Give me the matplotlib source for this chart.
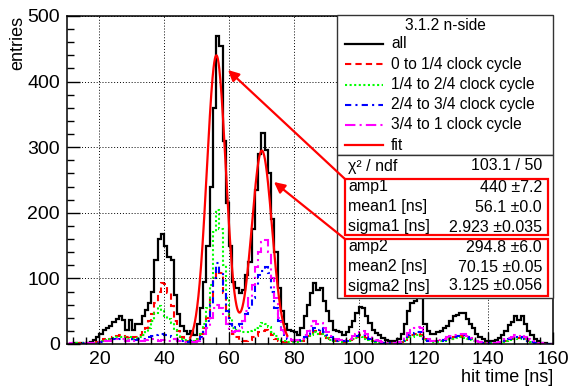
import matplotlib
matplotlib.use("Agg")
import matplotlib.pyplot as plt
import numpy as np
from matplotlib.patches import Rectangle
from matplotlib.lines import Line2D
from matplotlib.ticker import MultipleLocator

plt.rcParams['font.family'] = ['Liberation Sans', 'DejaVu Sans']

# hit time bins, 1 ns wide, 10 .. 160 ns
edges = np.arange(10, 161)

all_hits = [0, 0, 1, 0, 1, 0, 1, 3, 6, 10,
            15, 21, 24, 27, 33, 38, 43, 36, 22, 36,
            22, 30, 30, 42, 52, 62, 80, 128, 160, 168,
            150, 132, 128, 75, 45, 28, 20, 15, 20, 14,
            30, 55, 95, 150, 240, 360, 470, 455, 310, 215,
            150, 95, 85, 78, 82, 105, 125, 175, 235, 290,
            322, 295, 260, 190, 140, 85, 50, 30, 22, 20,
            18, 14, 24, 42, 60, 78, 93, 82, 85, 65,
            50, 35, 22, 20, 19, 14, 18, 26, 35, 47,
            56, 55, 42, 32, 22, 17, 13, 9, 6, 4,
            5, 4, 8, 15, 30, 50, 62, 65, 73, 70,
            30, 20, 15, 16, 18, 20, 24, 28, 35, 42,
            44, 48, 47, 38, 30, 24, 16, 10, 7, 5,
            4, 5, 6, 9, 14, 20, 29, 34, 42, 36,
            42, 30, 20, 13, 8, 4, 2, 1, 0, 0]

q1_hits = [0, 0, 0, 1, 0, 1, 0, 1, 2, 3,
           5, 7, 9, 8, 10, 12, 14, 12, 10, 12,
           10, 11, 14, 20, 25, 35, 45, 62, 80, 93,
           92, 78, 58, 35, 20, 10, 6, 5, 6, 4,
           8, 15, 25, 40, 70, 100, 112, 108, 78, 50,
           30, 15, 10, 6, 5, 4, 6, 10, 12, 18,
           20, 22, 20, 14, 8, 5, 3, 3, 4, 5,
           4, 3, 5, 8, 12, 16, 20, 18, 16, 12,
           9, 7, 5, 4, 4, 3, 4, 6, 8, 10,
           13, 12, 9, 7, 5, 4, 3, 2, 1, 1,
           1, 1, 2, 3, 6, 10, 13, 15, 17, 14,
           8, 5, 4, 4, 4, 5, 6, 7, 8, 10,
           11, 12, 11, 9, 7, 5, 4, 2, 2, 1,
           1, 1, 2, 2, 3, 5, 7, 8, 10, 9,
           10, 7, 5, 3, 2, 1, 1, 0, 0, 0]

q2_hits = [0, 0, 1, 0, 0, 1, 0, 1, 2, 3,
           4, 6, 7, 7, 9, 10, 11, 10, 8, 10,
           8, 9, 11, 14, 18, 24, 35, 48, 58, 50,
           42, 38, 32, 22, 14, 8, 6, 4, 5, 4,
           8, 15, 30, 55, 90, 170, 205, 175, 120, 70,
           40, 25, 22, 20, 18, 18, 20, 22, 25, 28,
           32, 30, 26, 18, 12, 8, 5, 4, 3, 3,
           3, 3, 4, 7, 10, 14, 18, 16, 15, 12,
           9, 6, 4, 4, 3, 3, 3, 5, 7, 9,
           12, 11, 8, 6, 4, 3, 2, 2, 1, 1,
           1, 1, 2, 3, 5, 9, 11, 13, 14, 12,
           6, 4, 3, 3, 3, 4, 5, 6, 7, 8,
           9, 10, 9, 8, 6, 5, 3, 2, 1, 1,
           1, 1, 1, 2, 3, 4, 6, 7, 9, 8,
           9, 7, 4, 3, 2, 1, 0, 0, 0, 0]

q3_hits = [0, 0, 0, 0, 1, 0, 0, 1, 1, 2,
           3, 4, 5, 6, 7, 6, 8, 7, 5, 7,
           5, 6, 7, 8, 8, 10, 12, 14, 15, 16,
           14, 12, 10, 8, 6, 4, 3, 3, 4, 3,
           5, 10, 18, 35, 60, 100, 124, 110, 80, 50,
           30, 25, 28, 30, 35, 45, 55, 70, 90, 105,
           112, 118, 108, 80, 55, 35, 20, 12, 8, 6,
           5, 4, 6, 10, 15, 20, 25, 22, 24, 18,
           14, 10, 6, 5, 5, 4, 5, 7, 9, 12,
           14, 14, 11, 8, 6, 4, 3, 2, 2, 1,
           1, 1, 2, 4, 8, 13, 16, 17, 19, 18,
           8, 5, 4, 4, 5, 5, 6, 7, 9, 11,
           12, 12, 13, 10, 8, 6, 4, 3, 2, 1,
           1, 1, 2, 2, 4, 5, 7, 9, 10, 9,
           10, 8, 5, 3, 2, 1, 1, 0, 0, 0]

q4_hits = [0, 1, 0, 0, 0, 0, 1, 1, 1, 2,
           3, 4, 4, 5, 6, 7, 8, 7, 5, 6,
           5, 5, 5, 5, 6, 7, 7, 6, 5, 6,
           6, 5, 6, 7, 5, 4, 3, 3, 3, 3,
           4, 8, 15, 25, 40, 55, 60, 55, 42, 30,
           20, 18, 20, 25, 35, 50, 70, 90, 118, 140,
           155, 158, 140, 100, 70, 40, 22, 12, 8, 6,
           6, 6, 8, 14, 20, 28, 35, 30, 32, 25,
           18, 12, 8, 7, 6, 5, 6, 8, 12, 15,
           19, 20, 16, 12, 8, 6, 4, 3, 2, 1,
           1, 1, 3, 5, 10, 17, 22, 24, 26, 24,
           10, 7, 5, 5, 6, 7, 8, 10, 12, 14,
           14, 16, 16, 12, 9, 7, 5, 3, 2, 2,
           1, 2, 2, 3, 5, 7, 9, 11, 13, 12,
           13, 10, 7, 4, 3, 2, 1, 0, 0, 0]

# double gaussian fit result (from stats box)
amp1, mean1, sigma1 = 440.0, 56.1, 2.923
amp2, mean2, sigma2 = 294.8, 70.15, 3.125
fit_range = (48.0, 78.0)

legend_title = "3.1.2 n-side"
legend_labels = ["all", "0 to 1/4 clock cycle", "1/4 to 2/4 clock cycle",
                 "2/4 to 3/4 clock cycle", "3/4 to 1 clock cycle", "fit"]
stat_labels = ["amp1", "mean1 [ns]", "sigma1 [ns]", "amp2", "mean2 [ns]", "sigma2 [ns]"]
stat_values = ["440 \u00b17.2", "56.1 \u00b10.0", "2.923 \u00b10.035",
               "294.8 \u00b16.0", "70.15 \u00b10.05", "3.125 \u00b10.056"]
chi2_text = "103.1 / 50"

fig = plt.figure(figsize=(5.69, 3.88), dpi=100)
W, H = 569.0, 388.0
ax = fig.add_axes([67 / W, 1 - 344 / H, (553 - 67) / W, (344 - 16) / H])

styles = [
    (all_hits, 'black', '-', 1.6),
    (q1_hits, '#ff0000', (0, (3, 2)), 1.5),
    (q2_hits, '#00ff00', (0, (1, 1.2)), 1.5),
    (q3_hits, '#0000ff', (0, (3, 2, 1, 2)), 1.5),
    (q4_hits, '#ff00ff', (0, (5, 2, 1, 2)), 1.5),
]
handles = []
for vals, col, ls, lw in styles:
    ax.stairs(vals, edges, color=col, linestyle=ls, linewidth=lw, baseline=None)
    handles.append((col, ls, lw))

xf = np.linspace(fit_range[0], fit_range[1], 400)
yf = (amp1 * np.exp(-0.5 * ((xf - mean1) / sigma1) ** 2)
      + amp2 * np.exp(-0.5 * ((xf - mean2) / sigma2) ** 2))
ax.plot(xf, yf, color='#ff0000', linewidth=1.6)
handles.append(('#ff0000', '-', 1.6))

ax.set_xlim(10, 160)
ax.set_ylim(0, 500)
ax.xaxis.set_major_locator(MultipleLocator(20))
ax.xaxis.set_minor_locator(MultipleLocator(4))
ax.yaxis.set_major_locator(MultipleLocator(100))
ax.yaxis.set_minor_locator(MultipleLocator(20))
ax.tick_params(which='both', direction='in', top=False, right=False, width=1.0)
ax.tick_params(which='major', length=9, labelsize=14, pad=5)
ax.tick_params(which='minor', length=5)
ax.grid(True, which='major', color='black', linestyle=(0, (1, 2)), linewidth=0.7)
for s in ax.spines.values():
    s.set_linewidth(1.1)

ax.set_xlabel("hit time [ns]", fontsize=13, loc='right', labelpad=1)
ax.set_ylabel("entries", fontsize=13, loc='top')
ax.yaxis.set_label_coords(-0.083, 1.0)


def fx(px):
    return (px - 67) / 486.0


def fy(py):
    return (344 - py) / 328.0


tr = ax.transAxes
# legend box
ax.add_patch(Rectangle((fx(337), fy(155)), fx(553) - fx(337), fy(15) - fy(155),
                       transform=tr, facecolor='white', edgecolor='#333333',
                       linewidth=1.0, clip_on=False, zorder=5))
ax.text(fx(445), fy(25), legend_title, transform=tr, ha='center', va='center',
        fontsize=11.2, zorder=6)
rows = [44, 64, 85, 105, 125, 145]
for (col, ls, lw), lab, ry in zip(handles, legend_labels, rows):
    ax.add_line(Line2D([fx(345), fx(383)], [fy(ry), fy(ry)], color=col, linestyle=ls,
                       linewidth=lw, transform=tr, clip_on=False, zorder=6))
    ax.text(fx(391), fy(ry), lab, transform=tr, ha='left', va='center',
            fontsize=11.2, zorder=6)

# stats box
ax.add_patch(Rectangle((fx(337), fy(298)), fx(553) - fx(337), fy(155) - fy(298),
                       transform=tr, facecolor='white', edgecolor='#333333',
                       linewidth=1.0, clip_on=False, zorder=5))
ax.text(fx(348), fy(166), "\u03c7\u00b2 / ndf", transform=tr, ha='left', va='center',
        fontsize=11.5, zorder=6)
ax.text(fx(542), fy(166), chi2_text, transform=tr, ha='right', va='center',
        fontsize=11.5, zorder=6)
stat_rows = [187, 207, 227, 247, 267, 286]
for lab, val, ry in zip(stat_labels, stat_values, stat_rows):
    ax.text(fx(348), fy(ry), lab, transform=tr, ha='left', va='center',
            fontsize=11.5, zorder=6)
    ax.text(fx(542), fy(ry), val, transform=tr, ha='right', va='center',
            fontsize=11.5, zorder=6)

for top, bot in [(179, 235), (239, 296)]:
    ax.add_patch(Rectangle((fx(345), fy(bot)), fx(548) - fx(345), fy(top) - fy(bot),
                           transform=tr, facecolor='none', edgecolor='#ff0000',
                           linewidth=1.6, clip_on=False, zorder=7))

# arrows from the boxes to the peaks
for start, tip in [((345, 179), (228, 70)), ((345, 239), (274, 182))]:
    ax.annotate("", xy=(fx(tip[0]), fy(tip[1])), xycoords=tr,
                xytext=(fx(start[0]), fy(start[1])), textcoords=tr,
                arrowprops=dict(arrowstyle='-|>', color='#ff0000', lw=1.6,
                                mutation_scale=16, shrinkA=0, shrinkB=0),
                zorder=8, annotation_clip=False)

fig.savefig("out.png", dpi=100)
